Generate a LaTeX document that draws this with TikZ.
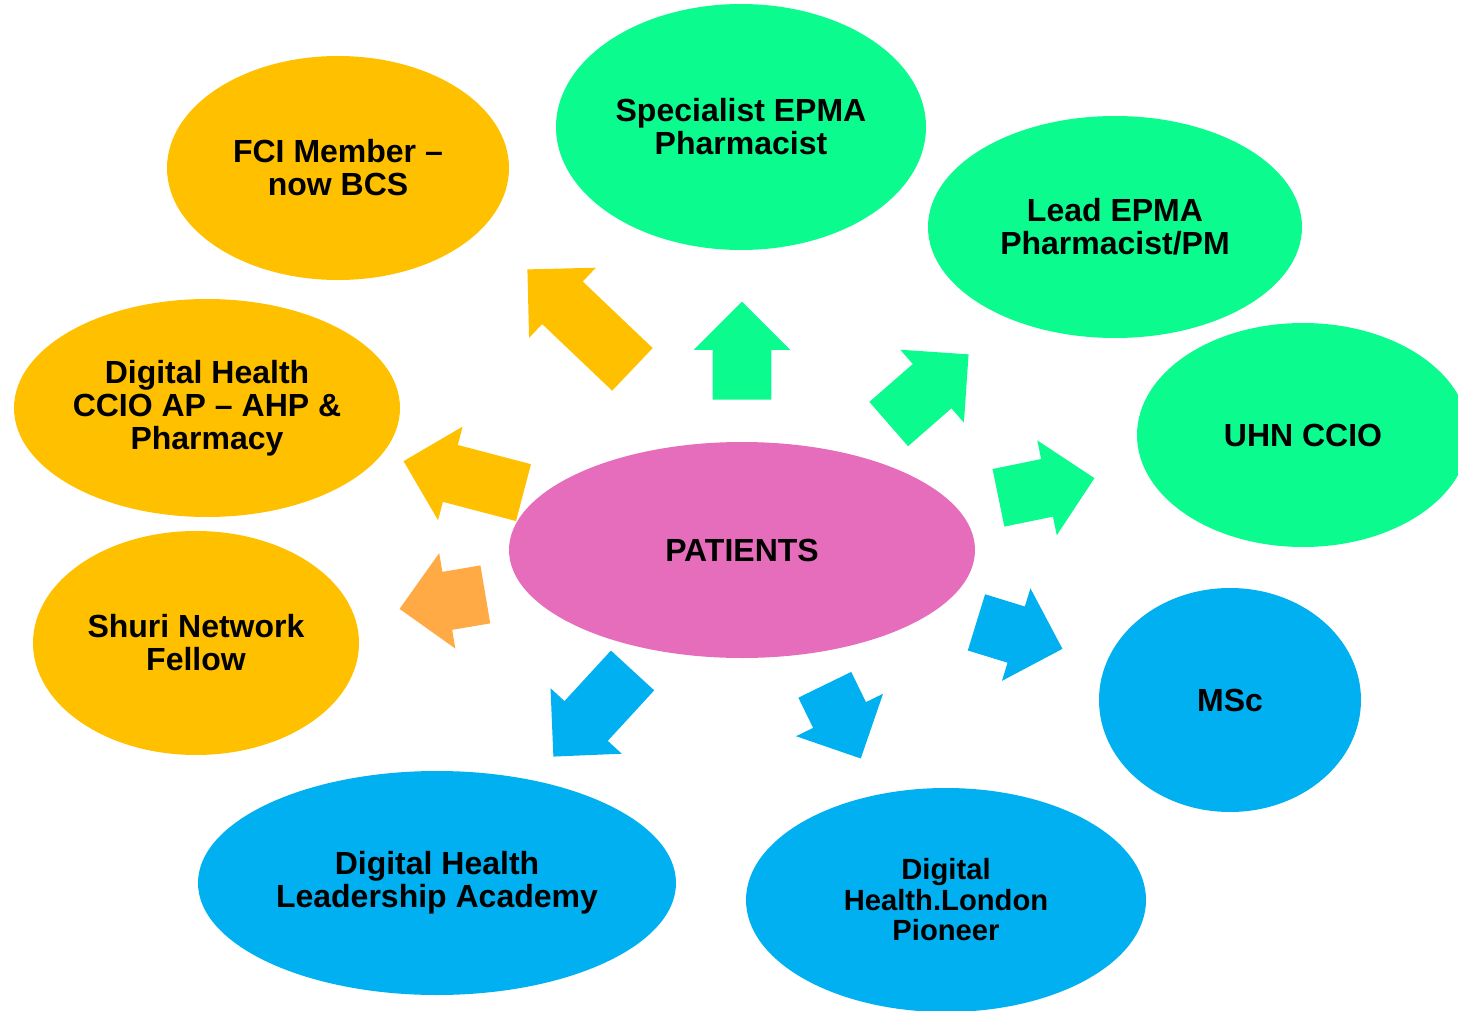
\documentclass[tikz,border=0pt]{standalone}
\usepackage{fontspec}
\setmainfont{Liberation Sans}
\usepackage{xcolor}
\usetikzlibrary{positioning, shapes.geometric, shapes.arrows}

\definecolor{goldfill}{HTML}{FFC000}
\definecolor{mintfill}{HTML}{0BFB8E}
\definecolor{skyfill}{HTML}{00B0F0}
\definecolor{pinkfill}{HTML}{E66CBC}
\definecolor{peachfill}{HTML}{FFAA44}

\begin{document}
\begin{tikzpicture}[
        x=0.5pt, y=-0.5pt,
        every node/.style={font=\bfseries\fontsize{16}{16.5}\selectfont, align=center},
        bubble/.style={ellipse, inner sep=0pt},
        goldbubble/.style={bubble, fill=goldfill},
        mintbubble/.style={bubble, fill=mintfill},
        skybubble/.style={bubble, fill=skyfill},
        blockarrow/.style={single arrow, inner xsep=0pt, inner ysep=14.5pt,
            single arrow head extend=9.5pt, single arrow tip angle=90, anchor=tip}
    ]
    \useasboundingbox (0,0) rectangle (1458,1011);
    \clip (0,0) rectangle (1458,1011);

    % Centre
    \node[bubble, fill=pinkfill, minimum width=233pt, minimum height=108pt] (patients) at (742,550) {PATIENTS};

    % Outer bubbles
    \node[goldbubble, minimum width=171pt, minimum height=112pt] (fci) at (338,168) {FCI Member –\\now BCS};
    \node[mintbubble, minimum width=185pt, minimum height=123pt] (specialist) at (741,127) {Specialist EPMA\\Pharmacist};
    \node[mintbubble, minimum width=187pt, minimum height=111pt] (lead) at (1115,227) {Lead EPMA\\Pharmacist/PM};
    \node[mintbubble, minimum width=166pt, minimum height=112pt] (uhn) at (1303,435) {UHN CCIO};
    \node[goldbubble, minimum width=193pt, minimum height=109pt] (ccio) at (207,408) {Digital Health\\CCIO AP – AHP \&\\Pharmacy};
    \node[goldbubble, minimum width=163pt, minimum height=112pt] (shuri) at (196,643) {Shuri Network\\Fellow};
    \node[skybubble, minimum width=131pt, minimum height=112pt] (msc) at (1230,700) {MSc};
    \node[skybubble, minimum width=239pt, minimum height=112pt] (academy) at (437,883) {Digital Health\\Leadership Academy};
    \node[skybubble, minimum width=200pt, minimum height=112pt,
          font=\bfseries\fontsize{14.6}{15.25}\selectfont] (london) at (946,900) {Digital\\Health.London\\Pioneer};

    % Block arrows around the centre
    \node[blockarrow, fill=goldfill, minimum height=72.5pt, rotate=136.4] (tofci) at (527,269) {};
    \node[blockarrow, fill=mintfill, minimum height=49pt, rotate=90] (tospecialist) at (742,301) {};
    \node[blockarrow, fill=mintfill, minimum height=53pt, rotate=41.1] (tolead) at (969,354) {};
    \node[blockarrow, fill=mintfill, minimum height=49pt, rotate=11.6] (touhn) at (1095,478) {};
    \node[blockarrow, fill=skyfill, minimum height=45pt, rotate=-17.1] (tomsc) at (1063,649) {};
    \node[blockarrow, fill=skyfill, minimum height=41pt, rotate=-64] (tolondon) at (861,759) {};
    \node[blockarrow, fill=skyfill, minimum height=58.5pt, rotate=-132.6] (toacademy) at (553,757) {};
    \node[blockarrow, fill=goldfill, minimum height=62pt, rotate=165.3] (toccio) at (403,461) {};
    \node[blockarrow, fill=peachfill, minimum height=43.5pt, rotate=189.6] (toshuri) at (399,609) {};

\end{tikzpicture}
\end{document}
